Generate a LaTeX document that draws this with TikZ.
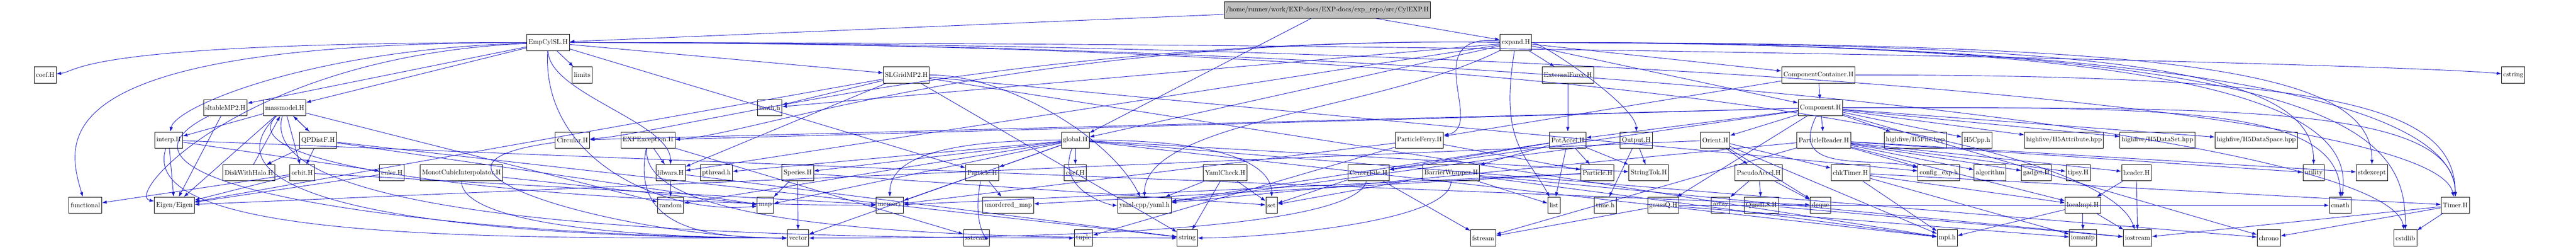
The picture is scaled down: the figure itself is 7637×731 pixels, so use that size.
\documentclass[tikz,border=0pt]{standalone}
\usepackage{tikz}
\usetikzlibrary{positioning}
\usetikzlibrary{arrows.meta}
\definecolor{edgeblue}{RGB}{25,25,200}
\definecolor{rootgray}{RGB}{191,191,191}
\tikzset{
  file/.style={draw=black,line width=0.7pt,rectangle,minimum height=24pt,inner xsep=2.5pt,font=\fontsize{10}{12}\selectfont},
  inc/.style={draw=edgeblue,line width=0.7pt,-{Latex[length=7pt,width=5pt]}}
}
\begin{document}
\begin{tikzpicture}[x=0.5pt,y=-0.5pt]
  \useasboundingbox (0,0) rectangle (7637,731);
  % top rows
  \node[file,fill=rootgray](root) at (3935,30) {/home/runner/work/EXP-docs/EXP-docs/exp\_repo/src/CylEXP.H};
  \node[file](empcyl) at (1625,126) {EmpCylSL.H};
  \node[file](expand) at (4494,126) {expand.H};
  \node[file](coefA) at (134,222) {coef.H};
  \node[file](limits) at (1726,222) {limits};
  \node[file](slgrid) at (2687,222) {SLGridMP2.H};
  \node[file](extforce) at (4648,222) {ExternalForce.H};
  \node[file](compcont) at (5391,222) {ComponentContainer.H};
  \node[file](cstring) at (7451,222) {cstring};
  \node[file](sltable) at (668,319) {sltableMP2.H};
  \node[file](massmodel) at (844,319) {massmodel.H};
  \node[file](mathh) at (2282,319) {math.h};
  \node[file](component) at (5397,319) {Component.H};
  % middle row
  \node[file](interp) at (500,415) {interp.H};
  \node[file](qpdistf) at (943,415) {QPDistF.H};
  \node[file](circular) at (1697,415) {Circular.H};
  \node[file](expexc) at (1921,415) {EXPException.H};
  \node[file](global) at (3188,415) {global.H};
  \node[file](pferry) at (4208,415) {ParticleFerry.H};
  \node[file](potaccel) at (4648,415) {PotAccel.H};
  \node[file](output) at (4851,415) {Output.H};
  \node[file](orient) at (5085,415) {Orient.H};
  \node[file](preader) at (5407,415) {ParticleReader.H};
  \node[file](hfile) at (5678,415) {highfive/H5File.hpp};
  \node[file](hcpp) at (5861,415) {H5Cpp.h};
  \node[file](hattr) at (6119,415) {highfive/H5Attribute.hpp};
  \node[file](hdset) at (6396,415) {highfive/H5DataSet.hpp};
  \node[file](hdspace) at (6689,415) {highfive/H5DataSpace.hpp};
  \node[file](diskhalo) at (738,512) {DiskWithHalo.H};
  \node[file](orbit) at (896,512) {orbit.H};
  \node[file](euler) at (1162,512) {euler.H};
  \node[file](monot) at (1368,512) {MonotCubicInterpolator.H};
  \node[file](libvars) at (1988,512) {libvars.H};
  \node[file](pthread) at (2124,512) {pthread.h};
  \node[file](species) at (2365,512) {Species.H};
  \node[file](particleA) at (2912,512) {Particle.H};
  \node[file](coefB) at (3188,512) {coef.H};
  \node[file](yamlcheck) at (3632,512) {YamlCheck.H};
  \node[file](center) at (4057,512) {CenterFile.H};
  \node[file](barrier) at (4302,512) {BarrierWrapper.H};
  \node[file](particleB) at (4736,512) {Particle.H};
  \node[file](stringtok) at (4888,512) {StringTok.H};
  \node[file](pseudo) at (5214,512) {PseudoAccel.H};
  \node[file](chktimer) at (5486,512) {chkTimer.H};
  \node[file](configexp) at (5748,512) {config\_exp.h};
  \node[file](algorithm) at (5900,512) {algorithm};
  \node[file](gadget) at (6037,512) {gadget.H};
  \node[file](tipsy) at (6161,512) {tipsy.H};
  \node[file](header) at (6334,512) {header.H};
  \node[file](utility) at (6859,512) {utility};
  \node[file](stdexcept) at (7032,512) {stdexcept};
  % lower rows
  \node[file](functional) at (253,608) {functional};
  \node[file](eigen) at (517,608) {Eigen/Eigen};
  \node[file](random) at (1988,608) {random};
  \node[file](map) at (2269,608) {map};
  \node[file](memory) at (2638,608) {memory};
  \node[file](umap) at (2989,608) {unordered\_map};
  \node[file](yaml) at (3393,608) {yaml-cpp/yaml.h};
  \node[file](set) at (3770,608) {set};
  \node[file](list) at (4607,608) {list};
  \node[file](timeh) at (4759,608) {time.h};
  \node[file](gaussq) at (4931,608) {gaussQ.H};
  \node[file](array) at (5101,608) {array};
  \node[file](quadls) at (5222,608) {QuadLS.H};
  \node[file](deque) at (5397,608) {deque};
  \node[file](localmpi) at (6175,608) {localmpi.H};
  \node[file](cmath) at (6938,608) {cmath};
  \node[file](timer) at (7279,608) {Timer.H};
  \node[file](vector) at (2366,705) {vector};
  \node[file](sstream) at (2895,705) {sstream};
  \node[file](tuple) at (3212,705) {tuple};
  \node[file](string) at (3520,705) {string};
  \node[file](fstream) at (4397,705) {fstream};
  \node[file](mpih) at (5773,705) {mpi.h};
  \node[file](iomanip) at (6175,705) {iomanip};
  \node[file](iostream) at (6337,705) {iostream};
  \node[file](chrono) at (6726,705) {chrono};
  \node[file](cstdlib) at (7131,705) {cstdlib};
  % includes of the root file
  \draw[inc] (root) -- (empcyl);
  \draw[inc] (root) -- (expand);
  \draw[inc] (root) -- (global);
  % EmpCylSL.H
  \draw[inc] (empcyl) .. controls +(-1400,0) and +(100,-10) .. (coefA);
  \draw[inc] (empcyl) .. controls +(-1500,0) and +(-60,-200) .. (functional);
  \draw[inc] (empcyl) .. controls +(-900,40) and +(-150,-30) .. (eigen);
  \draw[inc] (empcyl) .. controls +(-700,20) and +(20,-100) .. (interp);
  \draw[inc] (empcyl) -- (sltable);
  \draw[inc] (empcyl) -- (massmodel);
  \draw[inc] (empcyl) -- (limits);
  \draw[inc] (empcyl) -- (slgrid);
  \draw[inc] (empcyl) .. controls +(0,150) and +(0,-150) .. (libvars);
  \draw[inc] (empcyl) -- (particleA);
  \draw[inc] (empcyl) .. controls +(-20,350) and +(-300,30) .. (map);
  \draw[inc] (empcyl) .. controls +(3000,0) and +(-60,-300) .. (timer);
  \draw[inc] (empcyl) .. controls +(3000,0) and +(-300,-30) .. (cstring);
  \draw[inc] (empcyl) .. controls +(3000,0) and +(-50,-300) .. (cstdlib);
  \draw[inc] (empcyl) .. controls +(3000,0) and +(-100,-300) .. (iostream);
  % expand.H
  \draw[inc] (expand) -- (extforce);
  \draw[inc] (expand) .. controls +(80,0) and +(0,-100) .. (output);
  \draw[inc] (expand) -- (compcont);
  \draw[inc] (expand) -- (component);
  \draw[inc] (expand) .. controls +(-300,-30) and +(200,-40) .. (pferry);
  \draw[inc] (expand) -- (global);
  \draw[inc] (expand) .. controls +(-1500,-20) and +(300,-20) .. (circular);
  \draw[inc] (expand) .. controls +(-1500,-20) and +(300,-10) .. (expexc);
  \draw[inc] (expand) -- (libvars);
  \draw[inc] (expand) -- (mathh);
  \draw[inc] (expand) .. controls +(2000,0) and +(0,-300) .. (timer);
  \draw[inc] (expand) .. controls +(2000,0) and +(50,-300) .. (cmath);
  \draw[inc] (expand) .. controls +(2000,0) and +(0,-300) .. (stdexcept);
  \draw[inc] (expand) .. controls +(1800,0) and +(0,-300) .. (utility);
  \draw[inc] (expand) .. controls +(2500,0) and +(0,-300) .. (cstdlib);
  \draw[inc] (expand) .. controls +(-50,300) and +(-80,-150) .. (list);
  \draw[inc] (expand) .. controls +(-400,200) and +(0,-250) .. (yaml);
  % massmodel family
  \draw[inc] (sltable) -- (eigen);
  \draw[inc] (sltable) .. controls +(-500,250) and +(-900,0) .. (vector);
  \draw[inc] (massmodel) -- (interp);
  \draw[inc] (massmodel) -- (eigen);
  \draw[inc] (massmodel) -- (qpdistf);
  \draw[inc] (massmodel) -- (orbit);
  \draw[inc] (massmodel) .. controls +(-200,200) and +(-800,0) .. (memory);
  \draw[inc] (massmodel) .. controls +(-300,300) and +(-900,0) .. (vector);
  \draw[inc] (massmodel) .. controls +(-100,350) and +(-1000,0) .. (tuple);
  \draw[inc] (massmodel) -- (random);
  \draw[inc] (qpdistf) -- (massmodel);
  \draw[inc] (qpdistf) -- (diskhalo);
  \draw[inc] (qpdistf) -- (orbit);
  \draw[inc] (qpdistf) -- (map);
  \draw[inc] (qpdistf) -- (string);
  \draw[inc] (diskhalo) -- (massmodel);
  \draw[inc] (interp) -- (eigen);
  \draw[inc] (interp) -- (euler);
  \draw[inc] (interp) -- (deque);
  \draw[inc] (interp) .. controls +(-100,300) and +(-900,0) .. (vector);
  \draw[inc] (orbit) -- (eigen);
  \draw[inc] (orbit) -- (functional);
  \draw[inc] (orbit) -- (memory);
  \draw[inc] (euler) -- (eigen);
  \draw[inc] (monot) .. controls +(0,150) and +(-500,0) .. (vector);
  \draw[inc] (monot) -- (map);
  \draw[inc] (circular) .. controls +(-600,80) and +(-500,0) .. (vector);
  % EXPException, libvars, Species
  \draw[inc] (expexc) -- (libvars);
  \draw[inc] (expexc) .. controls +(-50,250) and +(-300,0) .. (vector);
  \draw[inc] (expexc) .. controls +(-30,250) and +(-800,0) .. (string);
  \draw[inc] (expexc) -- (sstream);
  \draw[inc] (libvars) -- (random);
  \draw[inc] (libvars) -- (string);
  \draw[inc] (species) -- (map);
  \draw[inc] (species) -- (vector);
  \draw[inc] (species) -- (set);
  % SLGridMP2.H
  \draw[inc] (slgrid) -- (mathh);
  \draw[inc] (slgrid) -- (libvars);
  \draw[inc] (slgrid) .. controls +(300,0) and +(-100,-200) .. (yaml);
  \draw[inc] (slgrid) -- (mpih);
  \draw[inc] (slgrid) -- (configexp);
  \draw[inc] (slgrid) -- (string);
  \draw[inc] (slgrid) -- (eigen);
  % global.H
  \draw[inc] (global) -- (coefB);
  \draw[inc] (global) .. controls +(-60,150) and +(-100,0) .. (yaml);
  \draw[inc] (global) .. controls +(-500,0) and +(0,-100) .. (memory);
  \draw[inc] (global) -- (map);
  \draw[inc] (global) -- (vector);
  \draw[inc] (global) -- (pthread);
  \draw[inc] (global) -- (random);
  \draw[inc] (global) -- (mpih);
  \draw[inc] (global) .. controls +(500,0) and +(0,-100) .. (set);
  \draw[inc] (global) -- (chrono);
  \draw[inc] (global) -- (species);
  \draw[inc] (global) -- (particleA);
  \draw[inc] (global) -- (stringtok);
  % Particle.H, YamlCheck.H
  \draw[inc] (particleA) -- (memory);
  \draw[inc] (particleA) -- (umap);
  \draw[inc] (particleA) .. controls +(-30,150) and +(30,0) .. (sstream);
  \draw[inc] (particleB) -- (umap);
  \draw[inc] (particleB) -- (memory);
  \draw[inc] (yamlcheck) -- (yaml);
  \draw[inc] (yamlcheck) -- (string);
  \draw[inc] (yamlcheck) -- (set);
  % ParticleFerry, PotAccel, Output
  \draw[inc] (pferry) -- (memory);
  \draw[inc] (pferry) -- (particleB);
  \draw[inc] (pferry) -- (tuple);
  \draw[inc] (extforce) -- (potaccel);
  \draw[inc] (potaccel) -- (particleB);
  \draw[inc] (potaccel) -- (stringtok);
  \draw[inc] (potaccel) -- (list);
  \draw[inc] (potaccel) -- (center);
  \draw[inc] (potaccel) -- (yaml);
  \draw[inc] (potaccel) -- (barrier);
  \draw[inc] (output) -- (stringtok);
  \draw[inc] (output) -- (yaml);
  \draw[inc] (output) -- (timeh);
  % CenterFile, BarrierWrapper, gaussQ
  \draw[inc] (center) -- (fstream);
  \draw[inc] (center) -- (set);
  \draw[inc] (center) .. controls +(-50,200) and +(300,0) .. (vector);
  \draw[inc] (barrier) -- (list);
  \draw[inc] (barrier) -- (set);
  \draw[inc] (barrier) .. controls +(0,150) and +(200,0) .. (string);
  \draw[inc] (barrier) -- (mpih);
  \draw[inc] (barrier) -- (iostream);
  \draw[inc] (gaussq) -- (fstream);
  \draw[inc] (gaussq) -- (iomanip);
  \draw[inc] (gaussq) -- (cmath);
  % ComponentContainer, Component
  \draw[inc] (compcont) -- (component);
  \draw[inc] (compcont) -- (pferry);
  \draw[inc] (compcont) .. controls +(1500,0) and +(0,-300) .. (timer);
  \draw[inc] (component) -- (orient);
  \draw[inc] (component) -- (preader);
  \draw[inc] (component) -- (hfile);
  \draw[inc] (component) -- (hcpp);
  \draw[inc] (component) -- (hattr);
  \draw[inc] (component) -- (hdset);
  \draw[inc] (component) -- (hdspace);
  \draw[inc] (component) .. controls +(-100,200) and +(-200,-50) .. (configexp);
  \draw[inc] (component) -- (potaccel);
  \draw[inc] (component) -- (center);
  \draw[inc] (component) -- (gaussq);
  \draw[inc] (component) -- (circular);
  \draw[inc] (component) -- (expexc);
  \draw[inc] (component) -- (chrono);
  \draw[inc] (component) .. controls +(1200,0) and +(0,-300) .. (timer);
  \draw[inc] (component) .. controls +(1000,0) and +(0,-300) .. (cmath);
  % Orient, PseudoAccel, ParticleReader
  \draw[inc] (orient) -- (pseudo);
  \draw[inc] (orient) -- (deque);
  \draw[inc] (orient) -- (mpih);
  \draw[inc] (orient) -- (eigen);
  \draw[inc] (orient) -- (chktimer);
  \draw[inc] (pseudo) -- (array);
  \draw[inc] (pseudo) -- (quadls);
  \draw[inc] (pseudo) -- (deque);
  \draw[inc] (quadls) -- (iostream);
  \draw[inc] (preader) -- (configexp);
  \draw[inc] (preader) -- (algorithm);
  \draw[inc] (preader) -- (gadget);
  \draw[inc] (preader) -- (tipsy);
  \draw[inc] (preader) -- (header);
  \draw[inc] (preader) -- (localmpi);
  \draw[inc] (preader) -- (yaml);
  \draw[inc] (preader) -- (fstream);
  \draw[inc] (preader) -- (utility);
  \draw[inc] (preader) -- (stdexcept);
  % localmpi, header, chkTimer, Timer
  \draw[inc] (chktimer) -- (mpih);
  \draw[inc] (chktimer) -- (localmpi);
  \draw[inc] (chktimer) -- (iomanip);
  \draw[inc] (chktimer) -- (timer);
  \draw[inc] (header) -- (localmpi);
  \draw[inc] (header) -- (iostream);
  \draw[inc] (localmpi) -- (iomanip);
  \draw[inc] (localmpi) -- (mpih);
  \draw[inc] (localmpi) -- (iostream);
  \draw[inc] (timer) -- (cstdlib);
  \draw[inc] (timer) -- (chrono);
  \draw[inc] (timer) -- (iostream);
\end{tikzpicture}
\end{document}
